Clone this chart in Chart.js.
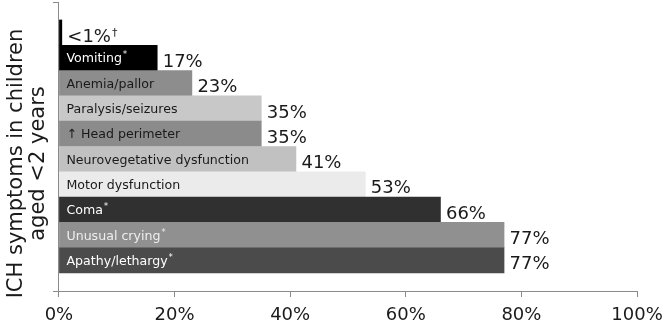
<!DOCTYPE html>
<html>
<head>
<meta charset="utf-8">
<script src="https://cdn.jsdelivr.net/npm/chart.js@4/dist/chart.umd.min.js"></script>
<style>
  html, body { margin: 0; padding: 0; background: #fff; }
  canvas { display: block; }
</style>
</head>
<body>
<canvas id="c" width="664" height="325"></canvas>
<script>
// ---- data ----
const categories = ['', 'Vomiting', 'Anemia/pallor', 'Paralysis/seizures', '\u2191 Head perimeter',
  'Neurovegetative dysfunction', 'Motor dysfunction', 'Coma', 'Unusual crying', 'Apathy/lethargy'];
const categoryMarks = ['', '*', '', '', '', '', '', '*', '*', '*'];
const values = [0.5, 17, 23, 35, 35, 41, 53, 66, 77, 77];
const valueLabels = ['<1%', '17%', '23%', '35%', '35%', '41%', '53%', '66%', '77%', '77%'];
const valueMarks = ['\u2020', '', '', '', '', '', '', '', '', ''];
const xTickLabels = ['0%', '20%', '40%', '60%', '80%', '100%'];
const axisTitle = ['ICH symptoms in children', 'aged <2 years'];

// ---- styles ----
const barColors = ['#000000', '#000000', '#8d8d8d', '#c8c8c8', '#8b8b8b', '#c1c1c1', '#ebebeb', '#303030', '#909090', '#4b4b4b'];
const textColors = ['#ffffff', '#ffffff', '#1a1a1a', '#1a1a1a', '#1a1a1a', '#1a1a1a', '#1a1a1a', '#ffffff', '#eeeeee', '#ffffff'];
const FONT = 'DejaVu Sans';
const axisColor = '#8a8a8a';

Chart.defaults.font.family = FONT;
Chart.defaults.color = '#1a1a1a';

const labelPlugin = {
  id: 'barLabels',
  afterDatasetsDraw(chart) {
    const ctx = chart.ctx;
    const meta = chart.getDatasetMeta(0);
    ctx.save();
    meta.data.forEach((el, i) => {
      // value label to the right of the bar
      ctx.textAlign = 'left';
      ctx.textBaseline = 'alphabetic';
      ctx.fillStyle = '#1a1a1a';
      ctx.font = '18px "' + FONT + '"';
      const vx = el.x + 5.5, vy = el.y + 9;
      ctx.fillText(valueLabels[i], vx, vy);
      if (valueMarks[i]) {
        const w = ctx.measureText(valueLabels[i]).width;
        ctx.font = '11px "' + FONT + '"';
        ctx.fillText(valueMarks[i], vx + w + 1, vy - 6);
      }
      // category label inside the bar
      if (categories[i]) {
        ctx.fillStyle = textColors[i];
        ctx.font = '12.6px "' + FONT + '"';
        const cx = el.base + 7, cy = el.y + 4.5;
        ctx.fillText(categories[i], cx, cy);
        if (categoryMarks[i]) {
          const w = ctx.measureText(categories[i]).width;
          ctx.font = '8px "' + FONT + '"';
          ctx.fillText(categoryMarks[i], cx + w + 1, cy - 5);
        }
      }
    });
    ctx.restore();
  }
};

new Chart(document.getElementById('c'), {
  type: 'bar',
  data: {
    labels: categories,
    datasets: [{
      data: values.map((v, i) => ({ x: v, y: i })),
      backgroundColor: barColors,
      borderWidth: 0,
      barPercentage: 1,
      categoryPercentage: 1
    }]
  },
  options: {
    indexAxis: 'y',
    responsive: false,
    animation: false,
    devicePixelRatio: 1,
    layout: { padding: { top: 2, right: 0, bottom: 0, left: 0 } },
    plugins: {
      legend: { display: false },
      tooltip: { enabled: false },
      title: {
        display: true,
        position: 'left',
        text: axisTitle,
        color: '#1a1a1a',
        font: { family: FONT, size: 21, weight: 'normal', lineHeight: 1.07 },
        padding: { top: 5, bottom: 3 }
      }
    },
    scales: {
      x: {
        type: 'linear',
        min: 0,
        max: 100,
        ticks: {
          stepSize: 20,
          padding: 8,
          color: '#1a1a1a',
          font: { family: FONT, size: 18 },
          callback: (v, i) => xTickLabels[i]
        },
        grid: { drawOnChartArea: false, drawTicks: true, tickLength: 6, color: axisColor },
        border: { color: axisColor, width: 1 },
        afterFit(s) { s.height = 34; s.paddingRight = 27; s.paddingLeft = 0; }
      },
      y: {
        type: 'linear',
        reverse: true,
        offset: false,
        min: -1.21,
        max: 10.21,
        ticks: { display: false },
        afterBuildTicks(s) { s.ticks = [{ value: s.min }, { value: s.max }]; },
        grid: { offset: false, drawOnChartArea: false, drawTicks: true, tickLength: 6, color: axisColor },
        border: { color: axisColor, width: 1 },
        afterFit(s) { s.width = 6; s.paddingTop = 0; s.paddingBottom = 0; }
      }
    }
  },
  plugins: [labelPlugin]
});
</script>
</body>
</html>
